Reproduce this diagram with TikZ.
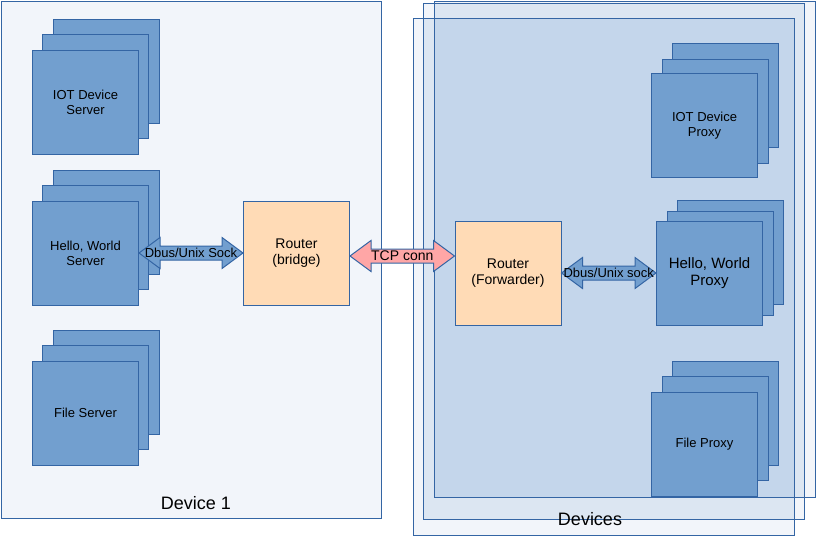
\documentclass[tikz,border=0pt]{standalone}
\usepackage{fontspec}
\setmainfont{Liberation Sans}
\usepackage{xcolor}
\usepackage{tikz}
\usetikzlibrary{calc}
\definecolor{cardblue}{HTML}{729FCF}
\definecolor{edgeblue}{HTML}{3465A4}
\definecolor{routerfill}{HTML}{FFDBB6}
\definecolor{tcpfill}{HTML}{FFA6A6}
\definecolor{hostlight}{HTML}{F2F5FA}
\definecolor{hostmid}{HTML}{DCE6F2}
\definecolor{hostdark}{HTML}{C4D6EB}

\begin{document}
\begin{tikzpicture}[x=1pt, y=-1pt, line width=1pt,
  card/.style={draw=edgeblue, fill=cardblue, minimum width=106pt, minimum height=104pt, inner sep=0pt, align=center, font=\fontsize{13}{15}\selectfont},
  bigcard/.style={card, font=\fontsize{15}{17}\selectfont},
  router/.style={card, fill=routerfill, font=\fontsize{14}{16}\selectfont},
  host/.style={draw=edgeblue},
  hostlbl/.style={font=\fontsize{18}{20}\selectfont},
  arrowlbl/.style={font=\fontsize{13}{15}\selectfont, inner sep=0pt},
  blockarrow/.style={draw=edgeblue, fill=cardblue, to path={let \p1=(\tikztostart), \p2=(\tikztotarget) in
    (\p1) -- (\x1+21pt,\y1+15.5pt) -- (\x1+21pt,\y1+7pt) -- (\x2-21pt,\y1+7pt) -- (\x2-21pt,\y1+15.5pt)
    -- (\x2,\y1) -- (\x2-21pt,\y1-15.5pt) -- (\x2-21pt,\y1-7pt) -- (\x1+21pt,\y1-7pt) -- (\x1+21pt,\y1-15.5pt) -- cycle}},
  tcparrow/.style={blockarrow, fill=tcpfill}]
  \useasboundingbox (0,0) rectangle (816,538);

  % Device 1
  \draw[host, fill=hostlight] (1,1) rectangle (381,518);
  \node[hostlbl](dev1) at (196,503){Device 1};

  % Devices (stacked hosts)
  \fill[hostlight] (434,1) rectangle (815.5,497.5);
  \fill[hostlight] (423,3) rectangle (804,519);
  \fill[hostlight] (413,18) rectangle (794,535);
  \fill[hostmid] (434,3) rectangle (804,497.5);
  \fill[hostmid] (423,18) rectangle (794,519);
  \fill[hostdark] (434,18) rectangle (794,497.5);
  \draw[host] (434,1) rectangle (815.5,497.5);
  \draw[host] (423,3) rectangle (804,519);
  \draw[host] (413,18) rectangle (794,535);
  \node[hostlbl](devs) at (590,519){Devices};

  % servers on Device 1
  \node[card](iotsrvb) at (106.5,71){};
  \node[card](iotsrvm) at (95.5,86.5){};
  \node[card](iotsrv) at (85.5,102){IOT Device\\ Server};
  \node[card](hellosrvb) at (106.5,222){};
  \node[card](hellosrvm) at (95.5,237.5){};
  \node[card](hellosrv) at (85.5,253){Hello, World\\ Server};
  \node[card](filesrvb) at (106.5,382){};
  \node[card](filesrvm) at (95.5,397.5){};
  \node[card](filesrv) at (85.5,413){File Server};
  \node[router](bridge) at (296.5,253){Router\\ (bridge)};

  % proxies on Devices
  \node[card](iotpxb) at (725,95){};
  \node[card](iotpxm) at (715,111){};
  \node[card](iotpx) at (704.5,125.5){IOT Device\\ Proxy};
  \node[bigcard](hellopxb) at (730,252.5){};
  \node[bigcard](hellopxm) at (720,263){};
  \node[bigcard](hellopx) at (709.5,273){Hello, World\\ Proxy};
  \node[card](filepxb) at (725.5,413){};
  \node[card](filepxm) at (715,428.5){};
  \node[card](filepx) at (704.5,444){File Proxy};
  \node[router](fwd) at (508,273){Router\\ (Forwarder)};

  % links
  \draw[blockarrow](hellosrv.east) to (bridge.west);
  \path(hellosrv.east) -- node[arrowlbl]{Dbus/Unix Sock} (bridge.west);
  \draw[tcparrow]([yshift=-3pt]bridge.east) to (fwd.west);
  \path([yshift=-3pt]bridge.east) -- node[arrowlbl, font=\fontsize{14}{16}\selectfont]{TCP conn} ([yshift=-3pt]bridge.east -| fwd.west);
  \draw[blockarrow](fwd.east) to (hellopx.west);
  \path(fwd.east) -- node[arrowlbl]{Dbus/Unix sock} (hellopx.west);
\end{tikzpicture}
\end{document}
